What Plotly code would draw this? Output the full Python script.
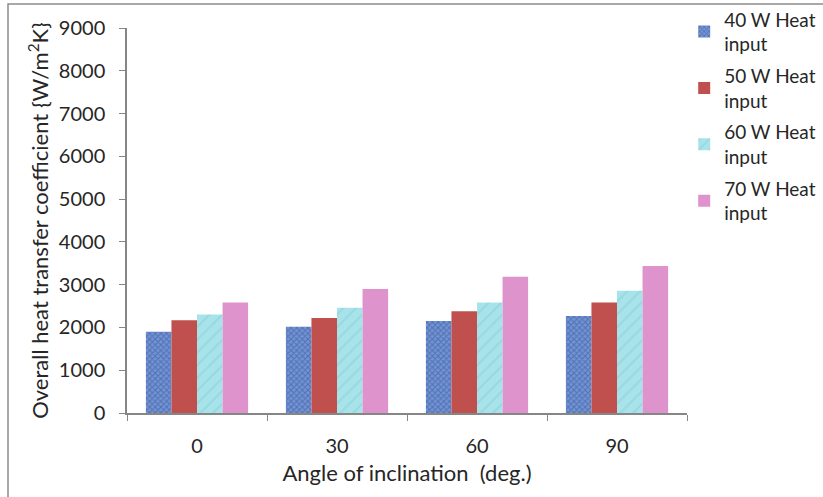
import plotly.graph_objects as go

angles = ["0", "30", "60", "90"]
series_names = ["40 W Heat<br>input", "50 W Heat<br>input", "60 W Heat<br>input", "70 W Heat<br>input"]
q40 = [1900, 2015, 2150, 2265]
q50 = [2170, 2220, 2380, 2585]
q60 = [2300, 2460, 2585, 2860]
q70 = [2585, 2900, 3185, 3435]
y_ticks = [0, 1000, 2000, 3000, 4000, 5000, 6000, 7000, 8000, 9000]

FONT = "Lato"
TXT = "#262626"
AXIS = "#868686"

styles = [
    dict(color="#7393d3", pattern=dict(shape="x", fgcolor="#2e4f96", size=4, solidity=0.45)),
    dict(color="#c0504d"),
    dict(color="#a9e3ea", pattern=dict(shape="/", fgcolor="#86cfda", size=9, solidity=0.25)),
    dict(color="#de93cc"),
]

fig = go.Figure()
for i, (name, vals) in enumerate(zip(series_names, [q40, q50, q60, q70])):
    fig.add_trace(go.Bar(
        x=angles, y=vals, name=name, legendgroup=str(i),
        marker=dict(line=dict(width=0), **styles[i]),
    ))

fig.update_layout(
    width=823, height=497,
    margin=dict(l=127, r=136, t=28, b=84, autoexpand=False),
    paper_bgcolor="white", plot_bgcolor="white",
    barmode="group", bargap=0.27, bargroupgap=0,
    font=dict(family=FONT, size=20, color=TXT),
    showlegend=True,
    legend=dict(
        x=0.995, y=1.072, xanchor="left", yanchor="top",
        font=dict(family=FONT, size=19, color=TXT),
        traceorder="grouped", tracegroupgap=4,
        itemwidth=30, bgcolor="rgba(0,0,0,0)",
    ),
    xaxis=dict(
        type="category",
        showline=True, linecolor=AXIS, linewidth=1.5,
        ticks="outside", tickson="boundaries", ticklen=6, tickcolor=AXIS,
        tickfont=dict(size=20, color=TXT), ticklabelstandoff=14,
        title=dict(text="Angle of inclination  (deg.)", font=dict(size=22, color=TXT), standoff=10),
        showgrid=False,
    ),
    yaxis=dict(
        range=[0, 9000], tickvals=y_ticks,
        showline=True, linecolor=AXIS, linewidth=1.5,
        ticks="outside", ticklen=6, tickcolor=AXIS,
        tickfont=dict(size=20, color=TXT), ticklabelstandoff=10,
        title=dict(text="Overall heat transfer coefficient {W/m<sup>2</sup>K}",
                   font=dict(size=22, color=TXT), standoff=4),
        showgrid=False, zeroline=False,
    ),
)

# outer chart frame
fig.add_shape(type="rect", xref="paper", yref="paper",
              x0=-119 / 560, x1=700 / 560, y0=-100 / 385, y1=409 / 385,
              line=dict(color="#8c8c8c", width=1.5), fillcolor="rgba(0,0,0,0)", layer="below")

fig.write_html("out.html")
